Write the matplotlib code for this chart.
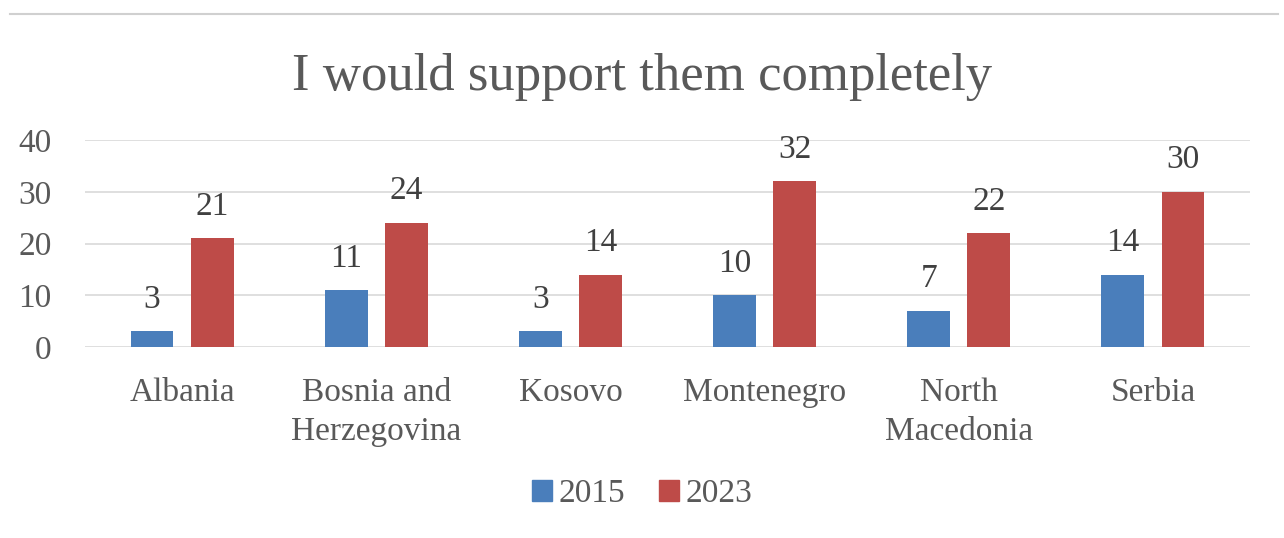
import matplotlib.pyplot as plt
import numpy as np
from matplotlib.lines import Line2D

# Chart data
countries = ["Albania", "Bosnia and\nHerzegovina", "Kosovo", "Montenegro",
             "North\nMacedonia", "Serbia"]
values_2015 = [3, 11, 3, 10, 7, 14]
values_2023 = [21, 24, 14, 32, 22, 30]
series_names = ["2015", "2023"]

BLUE = "#4a7ebb"
RED = "#be4b48"
TEXT = "#595959"

plt.rcParams["font.family"] = ["Liberation Serif", "DejaVu Serif"]

fig = plt.figure(figsize=(12.84, 5.38), dpi=100)
ax = fig.add_axes([85 / 1284, 1 - 347 / 538, 1165 / 1284, 207 / 538])

x = np.arange(len(countries))
width = 0.22
offset = 0.155
b1 = ax.bar(x - offset, values_2015, width, color=BLUE, zorder=3)
b2 = ax.bar(x + offset, values_2023, width, color=RED, zorder=3)

for bars, vals in ((b1, values_2015), (b2, values_2023)):
    for rect, v in zip(bars, vals):
        ax.text(rect.get_x() + rect.get_width() / 2, v + 3.2, str(v),
                ha="center", va="bottom", fontsize=24, color="#404040")

ax.set_xlim(-0.5, len(countries) - 0.5)
ax.set_ylim(0, 40)
ax.set_yticks([0, 10, 20, 30, 40])
ax.grid(axis="y", color="#d9d9d9", lw=1.2, zorder=0)
for s in ax.spines.values():
    s.set_visible(False)
ax.tick_params(length=0, labelsize=24, colors=TEXT)
ax.tick_params(axis="y", pad=24)
ax.set_xticks(x)
ax.set_xticklabels(countries, linespacing=1.35)
ax.tick_params(axis="x", pad=22)

fig.text(0.5, 1 - 77 / 538, "I would support them completely", ha="center",
         va="center", fontsize=38, color=TEXT)

# thin rule along the top edge
fig.add_artist(Line2D([0.008, 0.995], [1 - 14 / 538] * 2, color="#d0d0d0", lw=1.5))

handles = [plt.Rectangle((0, 0), 1, 1, color=BLUE),
           plt.Rectangle((0, 0), 1, 1, color=RED)]
fig.legend(handles, series_names, loc="center", bbox_to_anchor=(0.5, 1 - 494 / 538),
           ncol=2, frameon=False, fontsize=24, labelcolor=TEXT,
           handlelength=0.6, handleheight=0.6, handletextpad=0.2, columnspacing=1.0)

fig.savefig("out.png", dpi=100, facecolor="white")
